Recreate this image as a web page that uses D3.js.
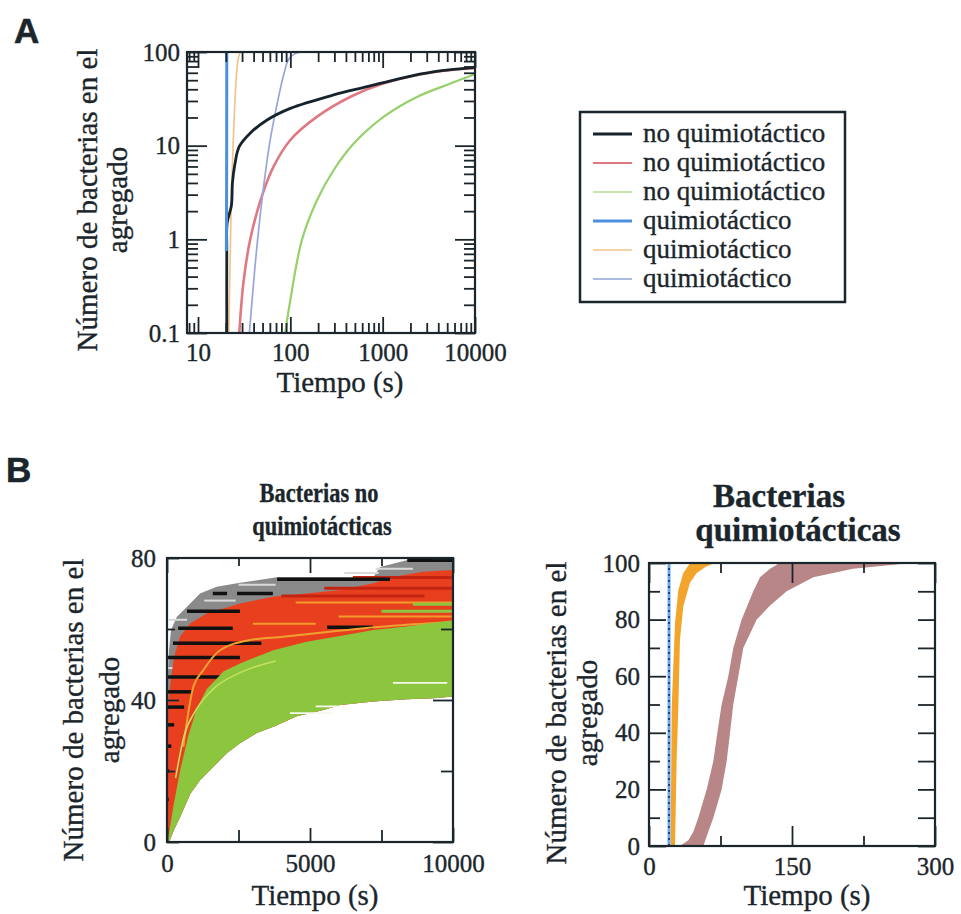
<!DOCTYPE html>
<html>
<head>
<meta charset="utf-8">
<script src="https://cdn.jsdelivr.net/npm/d3@7"></script>
<style>
  body { margin: 0; background: #fff; }
  svg { display: block; }
  text { font-family: "Liberation Serif", "Times New Roman", "DejaVu Serif", serif; fill: #1b262c; stroke: #1b262c; stroke-width: 0.35px; }
  .tick text { font-size: 25px; }
  .tick line { stroke-width: 1.8; }
  .axlabel { font-size: 29px; }
  .leg { font-size: 27px; }
  .panel { font-family: "Liberation Sans", Arial, sans-serif; font-weight: bold; font-size: 35px; stroke-width: 0.6px; }
  .title { font-weight: bold; }
</style>
</head>
<body>
<svg id="fig" width="961" height="914"></svg>
<script>
// ---------- Panel A: aggregate size vs time (log-log) ----------
const legendLabels = ["no quimiotáctico", "no quimiotáctico", "no quimiotáctico",
                      "quimiotáctico", "quimiotáctico", "quimiotáctico"];
// [time (s), bacteria in aggregate]
const noChemo1 = [[20.5,0.1],[20.5,0.75],[20.7,1.5],[23,2.3],[23.6,4],[25,6.2],[28,9.8],[36.7,13.6],[56,18.8],[100,25],[295,34.8],[678,42.6],[1570,52.4],[3640,61.6],[10000,68.5]];
const noChemo2 = [[28,0.1],[31,0.34],[36.7,0.99],[49,2.86],[66,6],[100,11.5],[195,20.4],[449,33.3],[1030,46.3],[2380,56.9],[5500,64.3],[10000,67]];
const noChemo3 = [[88,0.1],[100,0.225],[134,1],[195,2.63],[295,5.5],[489,10.6],[1030,20.4],[2380,33.3],[5500,46.3],[10000,58]];
const chemo1 = [[20.3,0.75],[20.4,3],[20.5,100]];
const chemo2 = [[21.5,0.1],[22.5,1],[23,3],[24,10],[25.5,40],[27,80],[28.5,100]];
const chemo3 = [[36,0.1],[41.7,0.55],[47,1.75],[53.5,5],[60.5,11.5],[72,28],[85,58],[97,85],[115,97],[140,100],[10000,100]];
const xMajorA = [10, 100, 1000, 10000];
const yMajorA = [0.1, 1, 10, 100];

// ---------- Panel B left: non-chemotactic runs (linear) ----------
// envelopes as [time (s), bacteria]
const bandLowerNC = [[0,0],[100,0.5],[222,3],[455,7],[816,13.6],[1154,17.4],[1620,21.2],[2087,25],[2553,27.8],[3136,30.7],[3719,32.5],[4535,35.4],[5467,37.2],[6050,38.6],[7215,39.6],[8380,40.2],[9312,40.5],[10000,41]];
const greenUpperNC = [[0,0],[60,2],[120,5],[222,10],[455,20],[746,30],[1037,37.5],[1387,43],[1970,48],[2553,50.3],[3136,52.2],[3719,54],[4884,56.4],[6050,58],[7215,59.7],[8380,60.7],[10000,62.5]];
const redUpperNC = [[0,30],[50,40],[140,46],[250,52.2],[455,57.9],[816,61.6],[1387,64.4],[2553,67.2],[3719,69.1],[4884,70],[6050,71],[7215,72.9],[7915,74.7],[8963,76.1],[10000,76.6]];
const blackUpperNC = [[0,40],[35,48],[70,54],[140,59.7],[340,63.4],[700,66.3],[1154,70],[1736,71.9],[2553,73],[3836,74.6],[7215,74.6],[7450,77.5],[8380,79.4],[10000,80]];
// plateau segments [t start, t end, bacteria]
const blackPlateaus = [[8400,10000,79.4],[3850,7800,74],[1600,2100,70],[2450,3700,70],[700,2550,65],[390,2300,60.2],[5600,7200,60.5],[210,1050,56],[1050,3300,56],[30,2550,52],[0,1900,46.5],[0,900,42.3],[0,600,38],[0,250,33],[0,150,27],[0,80,20],[0,60,12]];
const greyPlateaus = [[7300,8600,77],[6200,7400,75.8],[2500,3800,72.5],[1300,2400,68],[60,700,62.6],[30,400,49],[1700,2500,63]];
const redDarkPlateaus = [[5500,10000,71.5],[4000,9000,69.3],[6500,10000,74.5]];
const orangePlateaus = [[6000,10000,63.5],[4500,10000,67.5],[3000,5200,61.5]];
const greenStrands = [[7500,10000,65],[8600,10000,67]];
const whiteStrands = [[4300,5800,36.3],[7900,9800,44.8],[5200,6200,38.2]];
const orangeRun = [[570,26.8],[921,43.7],[1270,48.4],[1853,54],[2903,56.9],[4069,57.8],[6000,59.5],[8000,61],[10000,62]];
const yellowRun = [[300,18],[600,30],[1000,37],[1600,43],[2500,47.5],[3800,51]];
const xMajorBL = [0, 5000, 10000], xMinorBL = [2500, 7500];
const yMajorBL = [0, 40, 80], yMinorBL = [20, 60];

// ---------- Panel B right: chemotactic runs (linear) ----------
// edges as [time (s), bacteria]
const blueRun = [[21,0],[21,100]];
const orangeLeft = [[22.7,0],[23.8,49],[27.3,78.8],[30.8,90.5],[36,96.5],[42,99.5],[44,100]];
const orangeRight = [[27.3,0],[29,30.6],[30.8,49],[32.5,72.9],[36,84.7],[43,93],[50,96.5],[60,98.8],[69,100]];
const brownLeft = [[32.5,0],[41.3,2],[46.5,5],[51.7,10],[60.5,20],[67.5,30],[71.7,40],[76.2,50],[83.2,60],[88.4,70],[97.2,80],[109.4,90],[116.4,95],[127,98],[137,100]];
const brownRight = [[57,0],[62.2,5],[67.5,10],[76.2,20],[81.5,30],[85,40],[88.4,50],[93.7,60],[98.9,70],[113,80],[127,85],[144.4,90],[172.4,95],[214,98],[275.5,100]];
const xMajorBR = [0, 150, 300], xMinorBR = [75, 225];
const yMajorBR = [0, 20, 40, 60, 80, 100], yMinorBR = [10, 30, 50, 70, 90];

// ---------- drawing ----------
const svg = d3.select("#fig");
const INK = "#1b262c";

function clip(id, x, y) {
  const [x0, x1] = x.range(), [y0, y1] = y.range();
  svg.append("clipPath").attr("id", id).append("rect")
    .attr("x", x0).attr("y", y1).attr("width", x1 - x0).attr("height", y0 - y1);
  return `url(#${id})`;
}

function axes(x, y, c) {
  const [x0, x1] = x.range(), [y0, y1] = y.range();
  const g = svg.append("g");
  const add = (axis, tx, ty) => g.append("g")
    .attr("transform", `translate(${tx},${ty})`)
    .attr("color", INK)
    .call(axis)
    .call(s => s.select(".domain").remove());
  const none = () => "";
  add(d3.axisBottom(x).tickValues(c.xMajor).tickSize(-c.len.b[0]).tickPadding(c.xPad).tickFormat(c.fmt), 0, y0);
  add(d3.axisBottom(x).tickValues(c.xMinor).tickSize(-c.len.b[1]).tickFormat(none), 0, y0);
  add(d3.axisTop(x).tickValues(c.xMajor).tickSize(-c.len.t[0]).tickFormat(none), 0, y1);
  add(d3.axisTop(x).tickValues(c.xMinor).tickSize(-c.len.t[1]).tickFormat(none), 0, y1);
  add(d3.axisLeft(y).tickValues(c.yMajor).tickSize(-c.len.l[0]).tickPadding(c.yPad).tickFormat(c.fmt), x0, 0);
  add(d3.axisLeft(y).tickValues(c.yMinor).tickSize(-c.len.l[1]).tickFormat(none), x0, 0);
  add(d3.axisRight(y).tickValues(c.yMajor).tickSize(-c.len.r[0]).tickFormat(none), x1, 0);
  add(d3.axisRight(y).tickValues(c.yMinor).tickSize(-c.len.r[1]).tickFormat(none), x1, 0);
  g.append("rect").attr("x", x0).attr("y", y1).attr("width", x1 - x0).attr("height", y0 - y1)
    .attr("fill", "none").attr("stroke", INK).attr("stroke-width", 2.2);
}

function yLabel(bx1, bx2, cy) {
  svg.append("text").attr("class", "axlabel").attr("text-anchor", "middle")
    .attr("transform", `translate(${bx1},${cy}) rotate(-90)`).text("Número de bacterias en el");
  svg.append("text").attr("class", "axlabel").attr("text-anchor", "middle")
    .attr("transform", `translate(${bx2},${cy}) rotate(-90)`).text("agregado");
}
function xLabel(cx, by) {
  svg.append("text").attr("class", "axlabel").attr("text-anchor", "middle")
    .attr("x", cx).attr("y", by).text("Tiempo (s)");
}
function title(lines, cxs, bys, size, sx) {
  lines.forEach((t, i) => svg.append("text").attr("class", "title").attr("text-anchor", "middle")
    .attr("font-size", size)
    .attr("transform", `translate(${cxs[i]},${bys[i]}) scale(${sx},1)`).text(t));
}
const poly = (x, y, a, b) => d3.line().x(d => x(d[0])).y(d => y(d[1]))([...a, ...b.slice().reverse()]) + "Z";

// ---- Panel A ----
{
  const x = d3.scaleLog().domain([7.6, 10000]).range([187, 475]);
  const y = d3.scaleLog().domain([0.1, 100]).range([333, 52]);
  const isMajor = v => Math.abs(Math.log10(v) - Math.round(Math.log10(v))) < 1e-6;
  const fmt = v => String(+v.toPrecision(3));
  const cp = clip("clipA", x, y);
  const line = d3.line().x(d => x(d[0])).y(d => y(d[1])).curve(d3.curveCatmullRom.alpha(0.5));
  const series = [noChemo3, noChemo2, chemo3, chemo2, noChemo1, chemo1];
  const colors = ["#96d06a", "#e07882", "#98a6dc", "#f2c48c", "#17232b", "#4b8fde"];
  const widths = [2.2, 2.6, 1.7, 1.7, 2.8, 3];
  const gl = svg.append("g").attr("clip-path", cp);
  series.forEach((s, i) => gl.append("path").attr("d", line(s)).attr("fill", "none")
    .attr("stroke", colors[i]).attr("stroke-width", widths[i]).attr("stroke-linejoin", "round"));
  axes(x, y, {
    xMajor: xMajorA, xMinor: x.ticks().filter(v => !isMajor(v)),
    yMajor: yMajorA, yMinor: y.ticks().filter(v => !isMajor(v)),
    len: { b: [16, 10], t: [16, 10], l: [20, 11], r: [20, 11] },
    xPad: 10, yPad: 7, fmt
  });
  yLabel(97, 127, 200);
  xLabel(340, 392);

  // legend
  const lg = svg.append("g");
  lg.append("rect").attr("x", 580).attr("y", 112).attr("width", 265).attr("height", 190)
    .attr("fill", "#fff").attr("stroke", INK).attr("stroke-width", 2.5);
  const legColors = ["#17232b", "#e07882", "#b5dc8c", "#4b8fde", "#f2c48c", "#8fa6d6"];
  const legWidths = [2.8, 2, 1.6, 2.8, 1.6, 1.6];
  const rowY = d3.scalePoint().domain(d3.range(legendLabels.length)).range([134, 279]);
  legendLabels.forEach((t, i) => {
    lg.append("line").attr("x1", 593).attr("x2", 632).attr("y1", rowY(i)).attr("y2", rowY(i))
      .attr("stroke", legColors[i]).attr("stroke-width", legWidths[i]);
    lg.append("text").attr("class", "leg").attr("x", 643).attr("y", rowY(i) + 8).text(t);
  });
}

// ---- Panel B left ----
{
  const x = d3.scaleLinear().domain([0, 10000]).range([167, 453]);
  const y = d3.scaleLinear().domain([0, 80]).range([842, 558]);
  const cp = clip("clipBL", x, y);
  const g = svg.append("g").attr("clip-path", cp);
  g.append("path").attr("d", poly(x, y, blackUpperNC, bandLowerNC)).attr("fill", "#8a8a8a");
  const seg = (arr, color, w) => arr.forEach(d => g.append("line")
    .attr("x1", x(d[0])).attr("x2", x(d[1])).attr("y1", y(d[2])).attr("y2", y(d[2]))
    .attr("stroke", color).attr("stroke-width", w));
  seg(greyPlateaus, "#d9d9d9", 2);
  g.append("path").attr("d", poly(x, y, redUpperNC, bandLowerNC)).attr("fill", "#e8401f");
  seg(redDarkPlateaus, "#c32412", 3);
  seg(orangePlateaus, "#f39a2a", 2);
  seg(blackPlateaus, "#111", 3.5);
  const ln = d3.line().x(d => x(d[0])).y(d => y(d[1])).curve(d3.curveMonotoneX);
  g.append("path").attr("d", ln(orangeRun)).attr("fill", "none").attr("stroke", "#f0a030").attr("stroke-width", 2);
  g.append("path").attr("d", poly(x, y, greenUpperNC, bandLowerNC)).attr("fill", "#8cc63f");
  seg(greenStrands, "#8cc63f", 3);
  seg(whiteStrands, "#f4f8ec", 1.8);
  g.append("path").attr("d", ln(yellowRun)).attr("fill", "none").attr("stroke", "#c8e060").attr("stroke-width", 1.5);
  axes(x, y, {
    xMajor: xMajorBL, xMinor: xMinorBL, yMajor: yMajorBL, yMinor: yMinorBL,
    len: { b: [14, 12], t: [15, 8], l: [12, 8], r: [20, 12] },
    xPad: 12, yPad: 11, fmt: d3.format("d")
  });
  yLabel(83, 119, 710);
  xLabel(315, 905);
  title(["Bacterias no", "quimiotácticas"], [319, 322], [502, 535], 28, 0.8);
}

// ---- Panel B right ----
{
  const x = d3.scaleLinear().domain([0, 300]).range([649, 935]);
  const y = d3.scaleLinear().domain([0, 100]).range([846, 563]);
  const cp = clip("clipBR", x, y);
  const g = svg.append("g").attr("clip-path", cp);
  g.append("path").attr("d", poly(x, y, brownLeft, brownRight)).attr("fill", "#b88686");
  g.append("path").attr("d", poly(x, y, orangeLeft, orangeRight)).attr("fill", "#f2a52a");
  const ln = d3.line().x(d => x(d[0])).y(d => y(d[1]));
  g.append("path").attr("d", ln(blueRun)).attr("stroke", "#6aa8e8").attr("stroke-width", 3).attr("fill", "none");
  g.append("path").attr("d", ln(blueRun)).attr("stroke", "#1d3f9c").attr("stroke-width", 2)
    .attr("stroke-dasharray", "2 4").attr("fill", "none");
  axes(x, y, {
    xMajor: xMajorBR, xMinor: xMinorBR, yMajor: yMajorBR, yMinor: yMinorBR,
    len: { b: [20, 10], t: [20, 10], l: [17, 11], r: [17, 17] },
    xPad: 11, yPad: 9, fmt: d3.format("d")
  });
  yLabel(566, 597, 713);
  xLabel(807, 905);
  title(["Bacterias", "quimiotácticas"], [779, 798], [507, 541], 33, 1);
}

// panel letters
svg.append("text").attr("class", "panel").attr("x", 14).attr("y", 43).text("A");
svg.append("text").attr("class", "panel").attr("x", 6).attr("y", 482).text("B");
</script>
</body>
</html>
